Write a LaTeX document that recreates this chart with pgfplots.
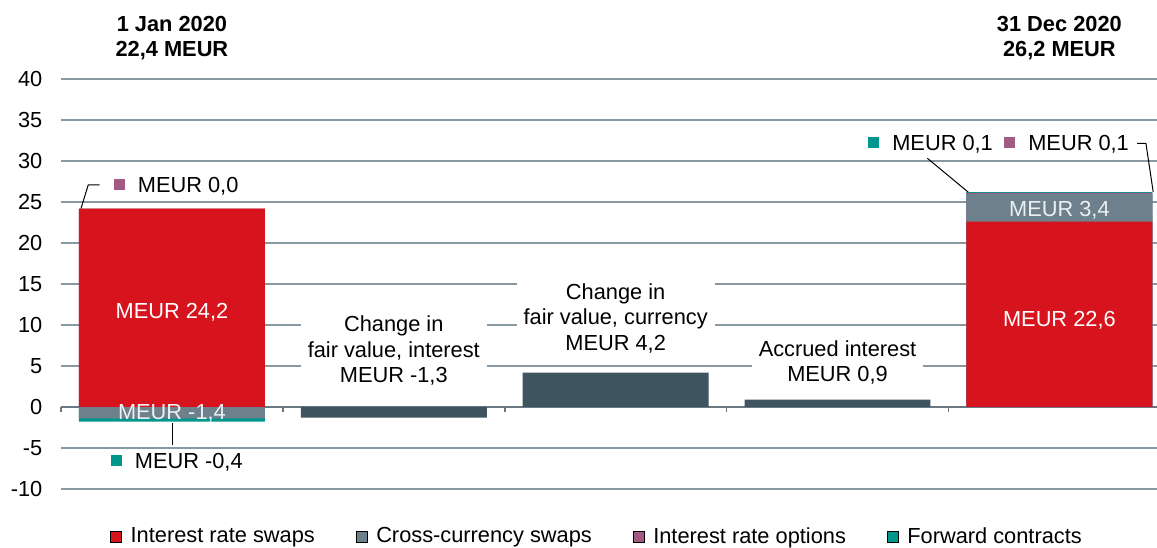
\documentclass[border=0pt]{standalone}
\usepackage{fontspec}
\setmainfont{Liberation Sans}
\usepackage{pgfplots}
\pgfplotsset{compat=1.18}
\usetikzlibrary{calc}

\definecolor{irs}{RGB}{215,20,30}
\definecolor{ccs}{RGB}{110,128,140}
\definecolor{iro}{RGB}{163,90,130}
\definecolor{fwd}{RGB}{0,150,140}
\definecolor{chg}{RGB}{62,84,94}
\definecolor{gridc}{RGB}{135,152,163}
\definecolor{zeroc}{RGB}{105,120,130}
\definecolor{lite}{RGB}{235,240,243}

\newcommand{\sq}[1]{\raisebox{1.1pt}{\color{#1}\rule{5.5pt}{5.5pt}}\hspace{6.5pt}}

\begin{document}
\fontsize{10.9}{12.8}\selectfont
\begin{tikzpicture}[font=\fontsize{10.9}{12.8}\selectfont]
\begin{axis}[
  scale only axis, width=548pt, height=205pt,
  xmin=-0.5, xmax=4.44, ymin=-10, ymax=40,
  axis x line*=middle, axis y line*=left,
  hide obscured x ticks=false, hide obscured y ticks=false,
  y axis line style={draw=none},
  x axis line style={zeroc, line width=1.2pt},
  xtick={-0.5,0.5,1.5,2.5,3.5}, xticklabels={},
  xtick style={zeroc, line width=0.8pt}, xtick align=outside,
  major tick length=2.5pt,
  ytick={-10,-5,...,40}, ytick style={draw=none},
  yticklabel style={anchor=east, xshift=-5.5pt},
  /pgf/number format/assume math mode=true,
  ymajorgrids, grid style={gridc, line width=1.2pt},
  ybar, bar width=0.838,
  clip=false,
  legend columns=4,
  legend image code/.code={\fill[#1] (0pt,-2.8pt) rectangle (5.6pt,2.8pt); \path (7.8pt,0pt);},
  legend style={draw=none, fill=none, at={(0.49,-0.117)}, anchor=center,
    /tikz/every even column/.append style={column sep=18.5pt}},
  legend cell align=left,
]
% bars drawn on top of each other from zero: values are cumulative
% stack order red, grey, purple, teal
\addplot[fill=fwd, draw=none, bar shift=0pt, forget plot] coordinates {(0,-1.8) (4,26.2)};
\addplot[fill=iro, draw=none, bar shift=0pt, forget plot] coordinates {(0,24.2) (4,26.1)};
\addplot[fill=ccs, draw=none, bar shift=0pt, forget plot] coordinates {(0,-1.4) (4,26.0)};
\addplot[fill=irs, draw=none, bar shift=0pt, forget plot] coordinates {(0,24.2) (4,22.6)};
\addplot[fill=chg, draw=none, bar shift=0pt, forget plot] coordinates {(1,-1.3) (2,4.2) (3,0.9)};

\addlegendimage{fill=irs}\addlegendentry{Interest rate swaps}
\addlegendimage{fill=ccs}\addlegendentry{Cross-currency swaps}
\addlegendimage{fill=iro}\addlegendentry{Interest rate options}
\addlegendimage{fill=fwd}\addlegendentry{Forward contracts}

\coordinate (bl) at (rel axis cs:0,0);
\coordinate (tr) at (rel axis cs:1,1);

\node[font=\bfseries, align=center] at (axis cs:0,45.0) {1 Jan 2020\\22,4 MEUR};
\node[font=\bfseries, align=center] at (axis cs:4,45.0) {31 Dec 2020\\26,2 MEUR};

\node[white] at (axis cs:0,11.6) {MEUR 24,2};
\node[lite] at (axis cs:0,-0.8) {MEUR -1,4};
\node[white] at (axis cs:4,10.6) {MEUR 22,6};
\node[lite] at (axis cs:4,24.0) {MEUR 3,4};

\node[fill=white, align=center, inner xsep=3.5pt, inner ysep=3pt] at (axis cs:1,6.85) {Change in\\fair value, interest\\MEUR -1,3};
\node[fill=white, align=center, inner xsep=3.5pt, inner ysep=3pt] at (axis cs:2,10.8) {Change in\\fair value, currency\\MEUR 4,2};
\node[fill=white, align=center, inner xsep=3.5pt, inner ysep=3pt] at (axis cs:3,5.45) {Accrued interest\\MEUR 0,9};

\draw[black, line width=0.5pt] (axis cs:-0.41,24.2) -- (axis cs:-0.377,27.1) -- (axis cs:-0.326,27.1);
\node[anchor=base west, inner sep=0pt] at (axis cs:-0.2635,26.15) {\sq{iro}MEUR 0,0};

\draw[black, line width=0.5pt] (axis cs:0.004,-1.95) -- (axis cs:0.004,-4.63);
\node[anchor=base west, inner sep=0pt] at (axis cs:-0.277,-7.5) {\sq{fwd}MEUR -0,4};

\draw[black, line width=0.5pt] (axis cs:3.405,30.33) -- (axis cs:3.589,26.2);
\node[anchor=base west, inner sep=0pt] at (axis cs:3.137,31.3) {\sq{fwd}MEUR 0,1};
\draw[black, line width=0.5pt] (axis cs:4.35,32.16) -- (axis cs:4.39,32.16) -- (axis cs:4.423,26.2);
\node[anchor=base west, inner sep=0pt] at (axis cs:3.75,31.3) {\sq{iro}MEUR 0,1};
\end{axis}
\pgfresetboundingbox
\path ($(bl)+(-30.5pt,-29.5pt)$) rectangle ($(tr)+(0pt,39.5pt)$);
\end{tikzpicture}
\end{document}
